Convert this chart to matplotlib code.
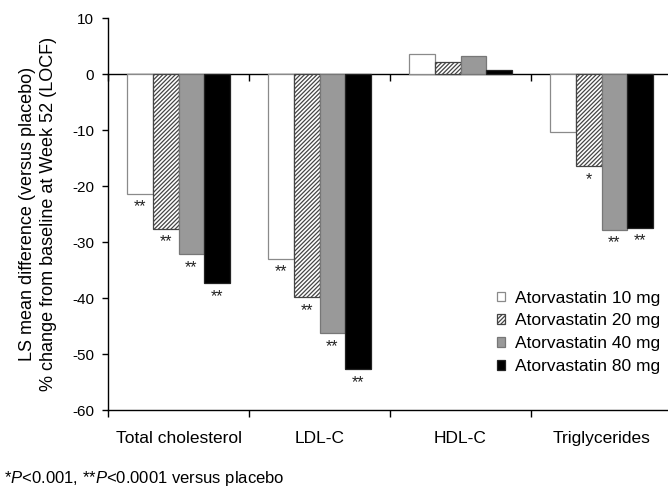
import matplotlib
matplotlib.use("Agg")
import matplotlib.pyplot as plt
import numpy as np

plt.rcParams['font.family'] = ['Liberation Sans', 'DejaVu Sans']
plt.rcParams['axes.unicode_minus'] = False
plt.rcParams['mathtext.fontset'] = 'custom'
plt.rcParams['mathtext.rm'] = 'Liberation Sans'
plt.rcParams['mathtext.it'] = 'Liberation Sans:italic'
plt.rcParams['hatch.linewidth'] = 0.9

categories = ["Total cholesterol", "LDL-C", "HDL-C", "Triglycerides"]
series_names = ["Atorvastatin 10 mg", "Atorvastatin 20 mg", "Atorvastatin 40 mg", "Atorvastatin 80 mg"]
values = {
    "Atorvastatin 10 mg": [-21.4, -33.0, 3.5, -10.4],
    "Atorvastatin 20 mg": [-27.6, -39.9, 2.1, -16.5],
    "Atorvastatin 40 mg": [-32.2, -46.3, 3.3, -27.8],
    "Atorvastatin 80 mg": [-37.4, -52.7, 0.8, -27.5],
}
stars = {
    "Atorvastatin 10 mg": ["**", "**", "", ""],
    "Atorvastatin 20 mg": ["**", "**", "", "*"],
    "Atorvastatin 40 mg": ["**", "**", "", "**"],
    "Atorvastatin 80 mg": ["**", "**", "", "**"],
}
yticks = [-60, -50, -40, -30, -20, -10, 0, 10]

styles = [
    dict(facecolor="white", edgecolor="#8a8a8a", hatch=None),
    dict(facecolor="white", edgecolor="#444444", hatch="////////"),
    dict(facecolor="#999999", edgecolor="#777777", hatch=None),
    dict(facecolor="black", edgecolor="#222222", hatch=None),
]

FS = 12.5

fig = plt.figure(figsize=(6.68, 4.87), dpi=100)
ax = fig.add_axes([108/668, 1 - 410/487, 564/668, 392/487])

x = np.arange(len(categories))
w = 0.182
offsets = (np.arange(4) - 1.5) * w
for i, name in enumerate(series_names):
    st = styles[i]
    ax.bar(x + offsets[i], values[name], width=w, facecolor=st["facecolor"],
           edgecolor=st["edgecolor"], hatch=st["hatch"], linewidth=0.9,
           label=name, zorder=2)
    for j, s in enumerate(stars[name]):
        if s:
            ax.text(x[j] + offsets[i], values[name][j] - 1.0, s, ha="center", va="top",
                    fontsize=11.5, color="#222222")

ax.set_ylim(-60, 10)
ax.set_xlim(-0.5, 3.5 - 4/141)
ax.set_yticks(yticks)
ax.set_yticklabels([str(t) for t in yticks], fontsize=11)
ax.tick_params(axis="y", direction="out", length=4.5, width=1, pad=5.5)

ax.set_xticks(x)
ax.set_xticklabels(categories, fontsize=FS)
ax.set_xticks(np.arange(len(categories) + 1) - 0.5, minor=True)
ax.tick_params(axis="x", which="major", length=0, pad=15)
ax.tick_params(axis="x", which="minor", direction="out", length=5, width=1)

for sp in ["top", "right"]:
    ax.spines[sp].set_visible(False)
ax.spines["left"].set_linewidth(1)
ax.spines["bottom"].set_linewidth(1)

sec = ax.secondary_xaxis(60/70)
sec.set_xticks(np.arange(len(categories) + 1) - 0.5)
sec.tick_params(axis="x", direction="in", length=5, width=1, labeltop=False, labelbottom=False)
sec.spines["top"].set_linewidth(1)

ax.set_ylabel("LS mean difference (versus placebo)\n% change from baseline at Week 52 (LOCF)",
              fontsize=13, labelpad=11, linespacing=1.3)

leg = ax.legend(loc="upper left", bbox_to_anchor=((488-108)/564, 1 - (282-18)/392), frameon=False,
                fontsize=FS, handlelength=0.48, handleheight=0.48, handletextpad=0.55,
                labelspacing=0.45, borderpad=0)

fig.text(4/668, 1 - 479/487, r"*$\it{P}$<0.001, **$\it{P}$<0.0001 versus placebo",
         fontsize=12, va="center", ha="left")

fig.savefig("out.png", dpi=100)
